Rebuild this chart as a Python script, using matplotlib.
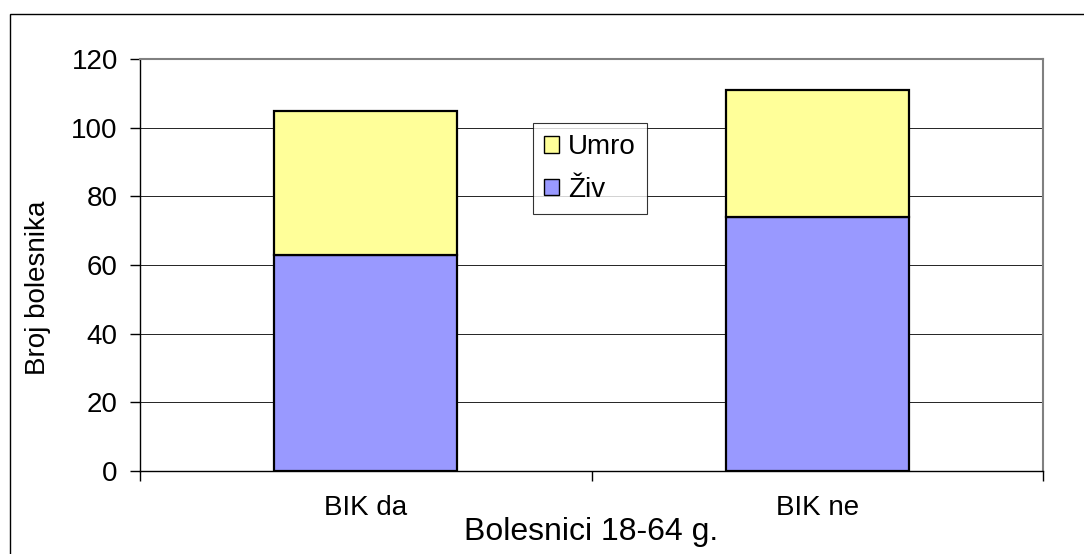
import numpy as np
import matplotlib
matplotlib.use('Agg')
import matplotlib.pyplot as plt
from matplotlib.patches import Rectangle

plt.rcParams['font.family'] = ['Liberation Sans', 'DejaVu Sans']

# data
categories = ['BIK da', 'BIK ne']
ziv = [63, 74]
umro = [42, 37]
yticks = [0, 20, 40, 60, 80, 100, 120]

fig = plt.figure(figsize=(10.84, 5.54), dpi=100)
ax = fig.add_axes([140/1084, 1 - 471/554, 903/1084, 412/554])

x = np.arange(len(categories))
w = 0.405
b1 = ax.bar(x, ziv, w, color='#9999FF', edgecolor='black', linewidth=1.6, label='Živ', zorder=3)
b2 = ax.bar(x, umro, w, bottom=ziv, color='#FFFF99', edgecolor='black', linewidth=1.6, label='Umro', zorder=3)

ax.set_xlim(-0.5, 1.5)
ax.set_ylim(0, 120)
ax.set_yticks(yticks)
ax.tick_params(axis='y', direction='out', length=7, width=1, labelsize=20, pad=9)
ax.grid(axis='y', color='black', linewidth=0.6, zorder=0)

ax.set_xticks([-0.5, 0.5, 1.5])
ax.set_xticklabels([])
ax.tick_params(axis='x', which='major', direction='out', length=7, width=1)
ax.set_xticks(x, minor=True)
ax.set_xticklabels(categories, minor=True)
ax.tick_params(axis='x', which='minor', length=0, labelsize=20, pad=17)

for s in ['left', 'bottom']:
    ax.spines[s].set_color('black')
    ax.spines[s].set_linewidth(1)
for s in ['top', 'right']:
    ax.spines[s].set_color('#808080')
    ax.spines[s].set_linewidth(1.5)

ax.set_xlabel('Bolesnici 18-64 g.', fontsize=23, va='center')
ax.xaxis.set_label_coords(0.5, -0.148)
ax.set_ylabel('Broj bolesnika', fontsize=20, va='center')
ax.yaxis.set_label_coords(-0.113, 0.444)

leg = ax.legend([b2, b1], ['Umro', 'Živ'], loc='upper left',
                bbox_to_anchor=(533/1084, 1 - 123/554), bbox_transform=fig.transFigure,
                fontsize=20, frameon=True, fancybox=False, edgecolor='black',
                handlelength=0.55, handleheight=0.55, handletextpad=0.3,
                borderpad=0.4, labelspacing=0.6, borderaxespad=0)
leg.get_frame().set_linewidth(0.8)
for h in leg.legend_handles:
    h.set_linewidth(1)

# outer chart frame
fig.patches.append(Rectangle((10/1084, -0.1), 1.2, 1.1 - 14/554, transform=fig.transFigure,
                             fill=False, edgecolor='black', linewidth=1))

fig.savefig('out.png', dpi=100)
